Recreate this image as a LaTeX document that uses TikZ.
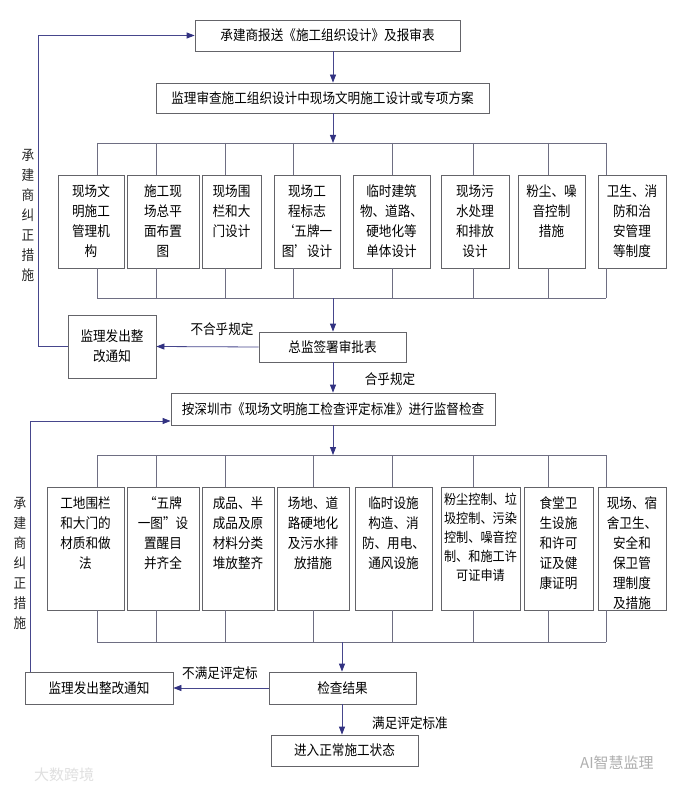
\documentclass[tikz,border=0pt]{standalone}
\usepackage{fontspec}
\usetikzlibrary{arrows.meta,calc}
\newfontfamily\cjkfont[FakeStretch=0.9]{Noto Sans CJK SC}
\definecolor{linecol}{RGB}{110,110,130}
\definecolor{boxcol}{RGB}{100,100,105}
\definecolor{arrcol}{RGB}{70,70,140}
\definecolor{headcol}{RGB}{50,50,130}
\definecolor{wmcol}{RGB}{175,175,175}
\newcommand\bx[6]{\node[box, minimum width={(#4)-(#2)}, minimum height={(#5)-(#3)}] (#1) at ({((#2)+(#4))/2},{((#3)+(#5))/2}) {#6};}
\newcommand\tbx[6]{\node[box, minimum width={(#4)-(#2)}, minimum height={(#5)-(#3)}] (#1) at ({((#2)+(#4))/2},{((#3)+(#5))/2}) {};
\node[txt, anchor=north, text width={(#4)-(#2)-2}] (#1t) at ([yshift=-10pt]#1.north) {#6};}
\begin{document}
\begin{tikzpicture}[x=1pt,y=-1pt,
  box/.style={draw=boxcol, line width=0.8pt, fill=white, inner sep=0pt, align=center,
    font=\cjkfont\fontsize{14}{20}\selectfont, text=black},
  txt/.style={inner sep=0pt, align=center, font=\cjkfont\fontsize{14}{20}\selectfont, text=black},
  lab/.style={inner sep=0pt, font=\cjkfont\fontsize{14}{16}\selectfont, text=black},
  vtxt/.style={inner sep=0pt, align=center, text width=14pt, font=\cjkfont\fontsize{14}{20}\selectfont, text=black!85},
  bus/.style={draw=linecol, line width=0.8pt},
  arr/.style={draw=arrcol, line width=0.8pt, -{Triangle[length=8pt,width=6pt,color=headcol,fill=headcol]}},
  wm/.style={inner sep=0pt, font=\fontspec{Noto Sans CJK SC}\fontsize{15}{16}\selectfont, text=wmcol}]
\fill[white] (0,0) rectangle (684,791);
\useasboundingbox (0,0) rectangle (684,791);

% column coordinates
\coordinate (ax) at (333,0);
\coordinate (bx) at (342,0);

% top section
\bx{B1}{195}{20}{460}{51}{承建商报送《施工组织设计》及报审表}
\bx{B2}{156}{83}{489}{113}{监理审查施工组织设计中现场文明施工设计或专项方案}
\draw[arr] (B1.south -| ax) -- (B2.north -| ax);

\coordinate (T1L) at (97,143);
\coordinate (T1R) at (606,143);
\coordinate (T2L) at (97,298);
\coordinate (T2R) at (606,298);
\draw[arr] (B2.south -| ax) -- (T1L -| ax);

\tbx{A1}{58}{175}{124}{268}{现场文\\明施工\\管理机\\构}
\tbx{A2}{127}{175}{199}{268}{施工现\\场总平\\面布置\\图}
\tbx{A3}{202}{175}{261}{268}{现场围\\栏和大\\门设计}
\tbx{A4}{274}{175}{340}{268}{现场工\\程标志\\‘五牌一\\图’设计}
\tbx{A5}{353}{175}{430}{268}{临时建筑\\物、道路、\\硬地化等\\单体设计}
\tbx{A6}{441}{175}{509}{268}{现场污\\水处理\\和排放\\设计}
\tbx{A7}{518}{175}{585}{268}{粉尘、噪\\音控制\\措施}
\tbx{A8}{598}{175}{666}{268}{卫生、消\\防和治\\安管理\\等制度}

\draw[bus] (T1L) -- (T1R);
\draw[bus] (T2L) -- (T2R);
\foreach \n/\x in {A1/97,A2/156,A3/225,A4/293,A5/392,A6/473,A7/548,A8/606}{
  \draw[bus] (\x,143) -- (\n.north -| \x,0);
  \draw[bus] (\n.south -| \x,0) -- (\x,298);
}

\bx{Z}{259}{332}{406}{362}{总监签署审批表}
\bx{M1}{68}{315}{156}{378}{监理发出整\\改通知}
\draw[arr] (T2L -| ax) -- (Z.north -| ax);
\draw[arr] (Z.west) -- (M1.east);
\node[lab] (L1) at (222,329) {不合乎规定};
\draw[arr] (M1.west) -- (38,346.5) |- (B1.west);

\node[vtxt] (V1) at (28,215) {承\\建\\商\\纠\\正\\措\\施};

\bx{S}{171}{393}{495}{425}{按深圳市《现场文明施工检查评定标准》进行监督检查}
\draw[arr] (Z.south -| ax) -- (S.north -| ax);
\node[lab] (L2) at (390,379) {合乎规定};

% bottom section
\coordinate (T3L) at (97,455);
\coordinate (T3R) at (606,455);
\coordinate (T4L) at (97,642);
\coordinate (T4R) at (606,642);
\draw[arr] (S.south -| ax) -- (T3L -| ax);

\tbx{C1}{47}{487}{124}{610}{工地围栏\\和大门的\\材质和做\\法}
\tbx{C2}{127}{487}{199}{610}{“五牌\\一图”设\\置醒目\\并齐全}
\tbx{C3}{202}{487}{274}{610}{成品、半\\成品及原\\材料分类\\堆放整齐}
\tbx{C4}{277}{487}{349}{610}{场地、道\\路硬地化\\及污水排\\放措施}
\tbx{C5}{355}{487}{432}{610}{临时设施\\构造、消\\防、用电、\\通风设施}
\node[box, minimum width=79pt, minimum height=123pt] (C6) at (480.5,548.5) {};
\node[txt, anchor=north, text width=80pt, font=\cjkfont\fontsize{13.5}{19}\selectfont] (C6t) at ([yshift=-6pt]C6.north) {粉尘控制、垃\\圾控制、污染\\控制、噪音控\\制、和施工许\\可证申请};
\tbx{C7}{524}{487}{593}{610}{食堂卫\\生设施\\和许可\\证及健\\康证明}
\tbx{C8}{598}{487}{666}{610}{现场、宿\\舍卫生、\\安全和\\保卫管\\理制度\\及措施}

\draw[bus] (T3L) -- (T3R);
\draw[bus] (T4L) -- (T4R);
\foreach \n/\x in {C1/97,C2/156,C3/225,C4/313,C5/392,C6/473,C7/548,C8/606}{
  \draw[bus] (\x,455) -- (\n.north -| \x,0);
  \draw[bus] (\n.south -| \x,0) -- (\x,642);
}

\bx{R}{269}{672}{416}{704}{检查结果}
\bx{M2}{25}{672}{173}{704}{监理发出整改通知}
\draw[arr] (T4L -| bx) -- (R.north -| bx);
\draw[arr] (R.west) -- (M2.east);
\node[lab] (L3) at (220,673) {不满足评定标};
\coordinate (lp2) at (30,421);
\draw[arr] (M2.north -| lp2) -- (lp2) -- (S.west |- lp2);

\node[vtxt] (V2) at (20,563) {承\\建\\商\\纠\\正\\措\\施};

\bx{E}{271}{735}{418}{766}{进入正常施工状态}
\draw[arr] (R.south -| bx) -- (E.north -| bx);
\node[lab] (L4) at (410,723) {满足评定标准};

% watermarks
\node[wm, anchor=west] (W1) at (580,763) {AI智慧监理};
\node[wm, anchor=west, text=black!12] (W2) at (34,775) {大数跨境};
\end{tikzpicture}
\end{document}
